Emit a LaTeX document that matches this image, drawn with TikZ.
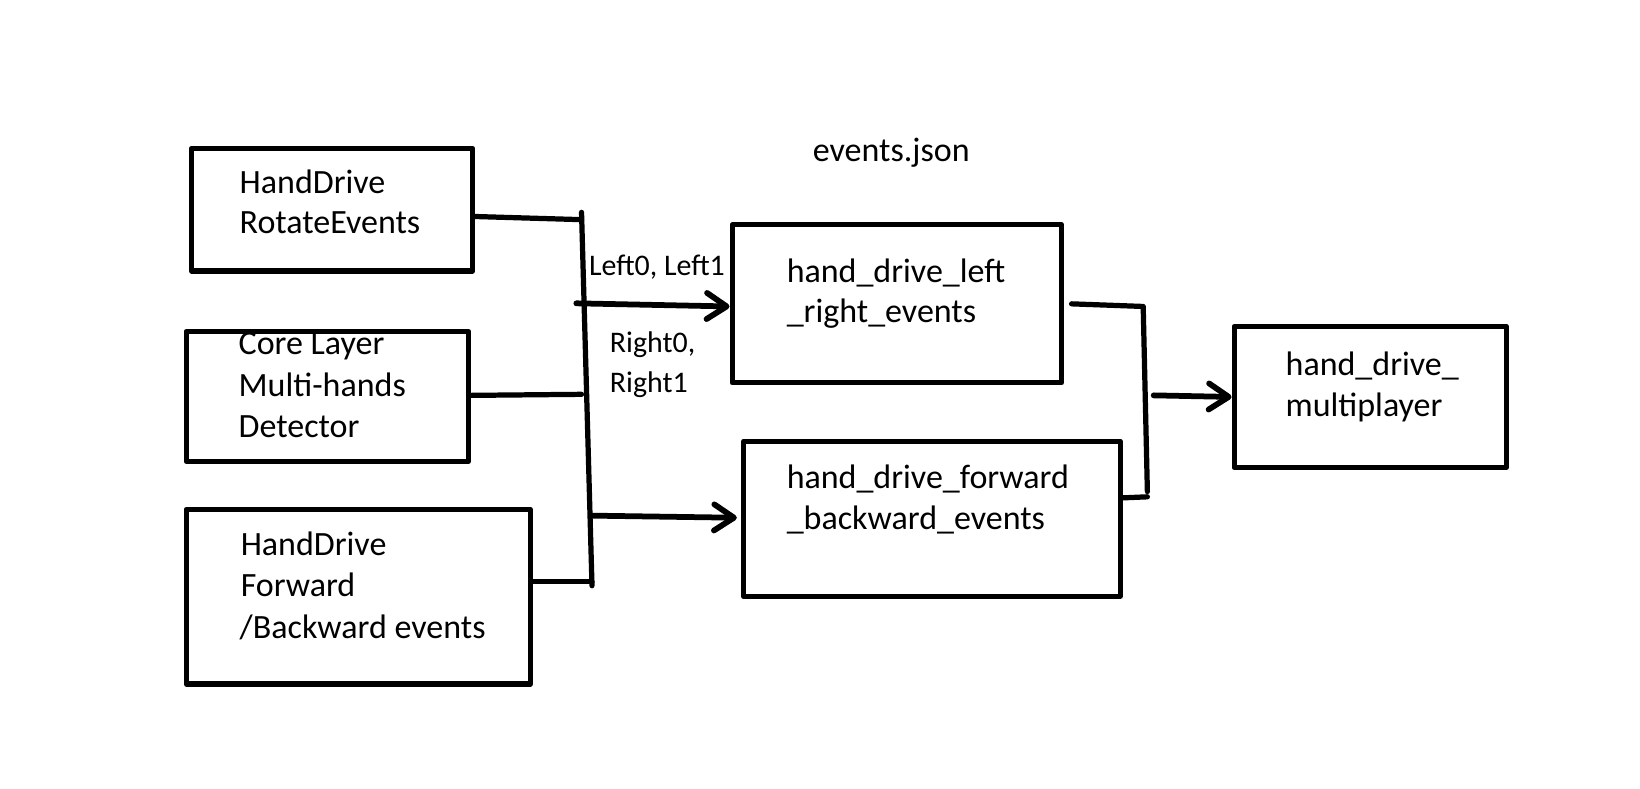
\documentclass[tikz,border=0pt]{standalone}
\usepackage{fontspec}
\setmainfont{Carlito}
\usetikzlibrary{arrows.meta}
\begin{document}
\begin{tikzpicture}[x=1pt,y=-1pt,
  box/.style={draw, line width=5pt, inner sep=0pt, line join=round},
  txt/.style={anchor=base west, inner sep=0pt, font=\fontsize{32.5}{38}\selectfont},
  lbl/.style={anchor=base west, inner sep=0pt, font=\fontsize{28.6}{38}\selectfont},
  wire/.style={line width=5pt, line cap=round, line join=round},
  arr/.style={wire, line width=5.5pt, -{Straight Barb[length=19pt, width=25pt, line width=5.5pt, round]}}
]
\useasboundingbox (0,0) rectangle (1568,753.4);
% boxes
\node[box, minimum width=269pt, minimum height=117pt] (b1) at (317.5,200.5) {};
\node[box, minimum width=270pt, minimum height=124pt] (b2) at (313,379) {};
\node[box, minimum width=329pt, minimum height=167pt] (b3) at (342.5,570.5) {};
\node[box, minimum width=315pt, minimum height=151pt] (b4) at (857.5,290.5) {};
\node[box, minimum width=360pt, minimum height=148pt] (b5) at (891,496) {};
\node[box, minimum width=260pt, minimum height=135pt] (b6) at (1310,379.5) {};
% texts
\node[txt] (t1a) at (229,185) {HandDrive};
\node[txt] (t1b) at (229,223) {RotateEvents};
\node[txt] (t2a) at (228,339) {Core Layer};
\node[txt] (t2b) at (228,379) {Multi-hands};
\node[txt] (t2c) at (228,418) {Detector};
\node[txt] (t3a) at (230,531) {HandDrive};
\node[txt] (t3b) at (230,570) {Forward};
\node[txt] (t3c) at (229,610) {/Backward events};
\node[txt] (t4a) at (752,270) {hand\_drive\_left};
\node[txt] (t4b) at (752,308) {\_right\_events};
\node[txt] (t5a) at (752,467) {hand\_drive\_forward};
\node[txt] (t5b) at (752,506) {\_backward\_events};
\node[txt] (t6a) at (1229,359) {hand\_drive\_};
\node[txt] (t6b) at (1229,398) {multiplayer};
\node[txt] (ej) at (777,154) {events.json};
\node[lbl] (l1) at (563,263) {Left0, Left1};
\node[lbl] (r1) at (583,337) {Right0,};
\node[lbl] (r2) at (583,375) {Right1};
% junction coordinates
\coordinate (busT) at (556,203);
\coordinate (busB) at (566,560);
\coordinate (j1) at (556,210);
\coordinate (j2) at (556,377);
\coordinate (j3) at (566,556);
\coordinate (aS) at (551,290);
\coordinate (bS) at (566,493);
\coordinate (k1) at (1093,293);
\coordinate (k2) at (1097,470);
\coordinate (k3) at (1097,475);
\coordinate (cS) at (1103,378);
% left bus
\draw[wire] (busT) -- (busB);
\draw[wire] ([yshift=-6.5pt]b1.east) -- (j1);
\draw[wire] ([yshift=1pt]b2.east) -- (j2);
\draw[wire] ([yshift=14.5pt]b3.east) -- (j3);
\draw[arr] (aS) -- ([yshift=-2.5pt]b4.west);
\draw[arr] (bS) -- ([xshift=-4pt,yshift=1pt]b5.west);
% right bus
\draw[wire] ([xshift=7pt]b4.east) -- (k1) -- (k2);
\draw[wire] ([yshift=20pt]b5.east) -- (k3);
\draw[arr] (cS) -- (b6.west);
\end{tikzpicture}
\end{document}
